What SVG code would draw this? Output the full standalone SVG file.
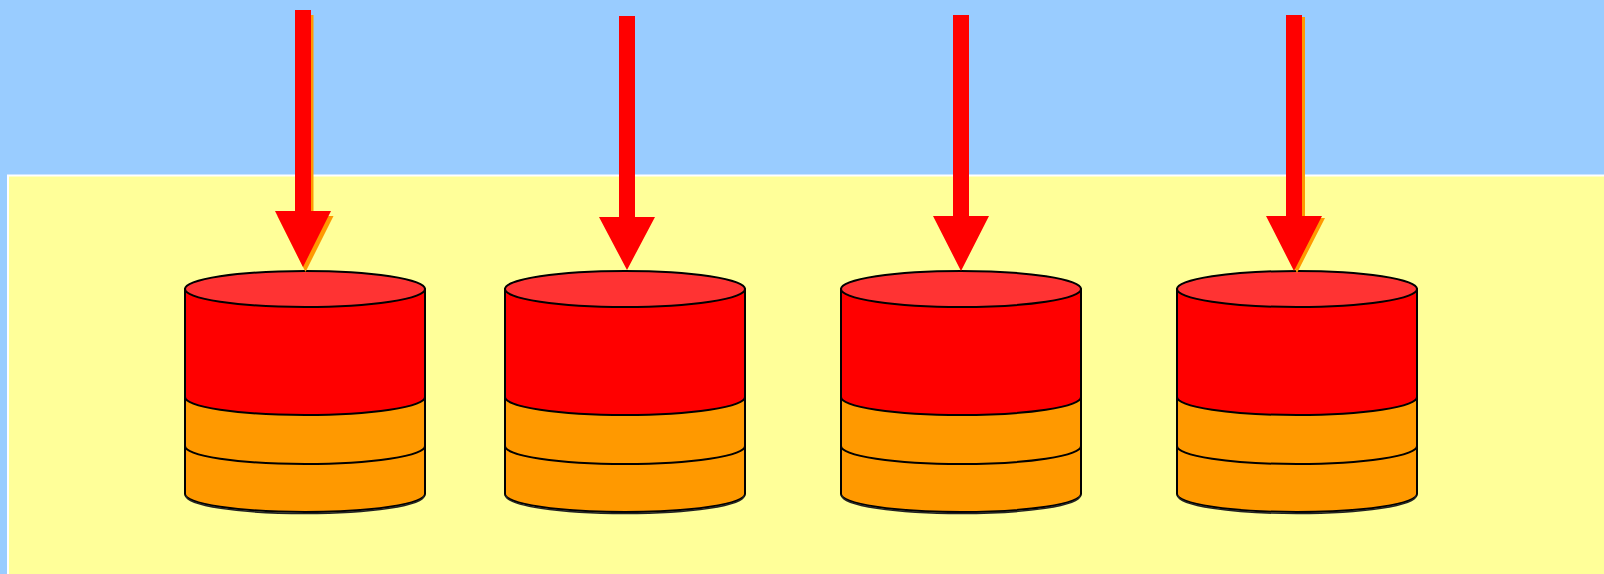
<svg xmlns="http://www.w3.org/2000/svg" xmlns:xlink="http://www.w3.org/1999/xlink" width="1604" height="574" viewBox="0 0 1604 574">
  <style>
    .sky { fill: #99CCFF; }
    .panel { fill: #FFFF99; stroke: #FFFFFF; stroke-width: 2; }
    .edge { stroke: #000000; stroke-width: 2; stroke-linejoin: round; }
    .red { fill: #FF0000; }
    .lid { fill: #FF3333; }
    .orange { fill: #FF9900; }
    .line { fill: none; }
    .arrow { fill: #FF0000; }
    .shadow { fill: #FF9900; }
  </style>
  <defs>
    <!-- disk cylinder, origin at centre of the top face -->
    <g id="cyl">
      <path class="orange edge" d="M-120 108 V205 A120 18 0 0 0 120 205 V108 Z"/>
      <path class="line" d="M-119 206.5 A119 18 0 0 0 119 206.5" stroke="#222" stroke-width="1.6"/>
      <path class="line edge" d="M-120 157 A120 18 0 0 0 120 157"/>
      <path class="red edge" d="M-120 0 V108 A120 18 0 0 0 120 108 V0 Z"/>
      <ellipse class="lid edge" cx="0" cy="0" rx="120" ry="18"/>
    </g>
  </defs>

  <!-- background -->
  <rect class="sky" x="0" y="0" width="1604" height="574"/>
  <rect class="panel" x="8" y="175.5" width="1600" height="402"/>

  <!-- disks -->
  <g id="disk1" transform="translate(305 289)"><use xlink:href="#cyl" href="#cyl"/></g>
  <g id="disk2" transform="translate(625 289)"><use xlink:href="#cyl" href="#cyl"/></g>
  <g id="disk3" transform="translate(961 289)"><use xlink:href="#cyl" href="#cyl"/></g>
  <g id="disk4" transform="translate(1297 289)"><use xlink:href="#cyl" href="#cyl"/></g>

  <!-- arrows pointing down into each disk -->
  <g id="connectors">
    <g id="arrow1">
      <polygon class="shadow" transform="translate(2.5 5)" points="295,10 311,10 311,211 331,211 303,267 275,211 295,211"/>
      <polygon class="arrow" points="295,10 311,10 311,211 331,211 303,267 275,211 295,211"/>
    </g>
    <g id="arrow2">
      <polygon class="arrow" points="619,16 635,16 635,217 655,217 627,270 599,217 619,217"/>
    </g>
    <g id="arrow3">
      <polygon class="arrow" points="953,15 969,15 969,216 989,216 961,271 933,216 953,216"/>
    </g>
    <g id="arrow4">
      <polygon class="shadow" transform="translate(3 2)" points="1286,15 1302,15 1302,216 1322,216 1294,271 1266,216 1286,216"/>
      <polygon class="arrow" points="1286,15 1302,15 1302,216 1322,216 1294,271 1266,216 1286,216"/>
    </g>
  </g>
</svg>
